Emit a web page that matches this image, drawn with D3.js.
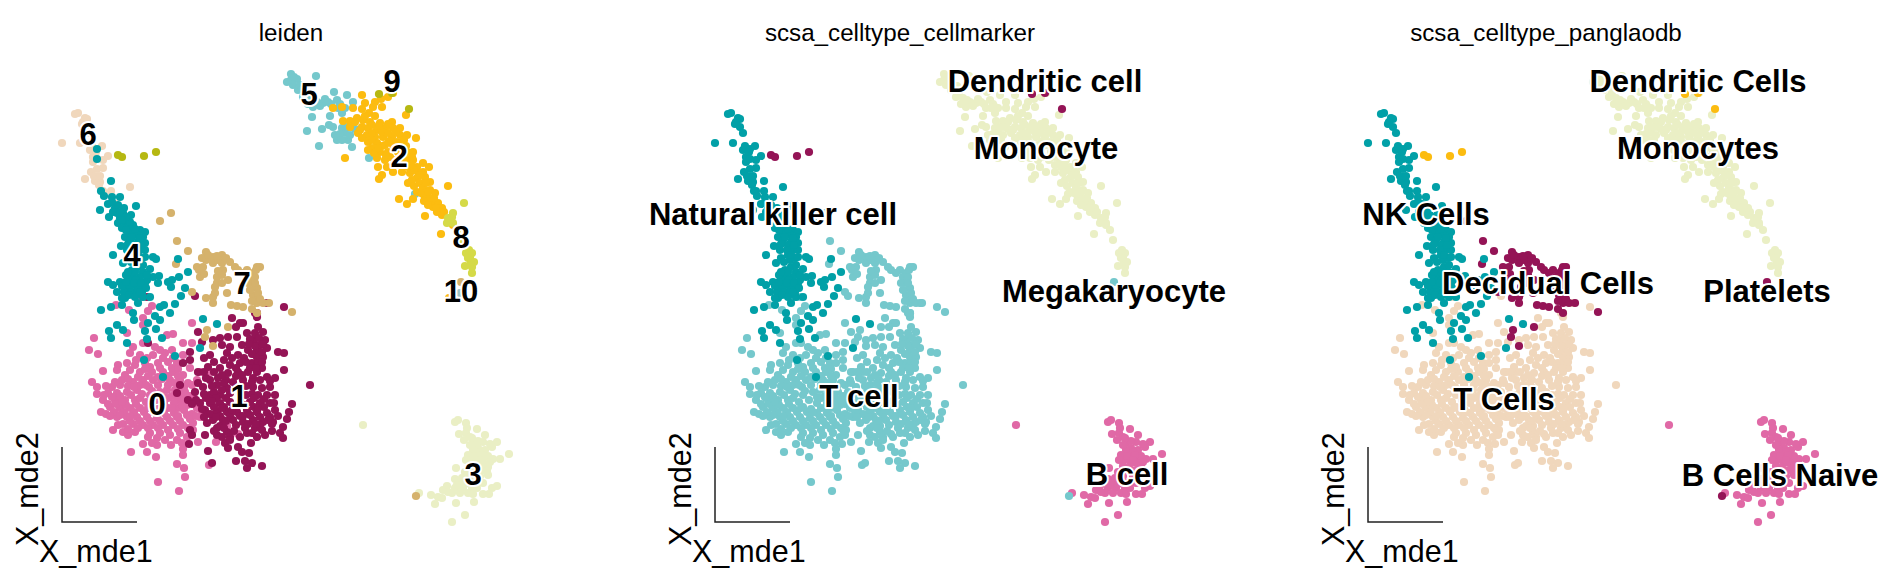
<!DOCTYPE html>
<html>
<head>
<meta charset="utf-8">
<script src="https://cdn.jsdelivr.net/npm/d3@7"></script>
<style>
html, body { margin: 0; padding: 0; background: #fff; }
svg { display: block; }
text { font-family: "Liberation Sans", Arial, sans-serif; fill: #000; }
</style>
</head>
<body>
<svg id="chart"></svg>
<script>
var width = 1893;
var height = 584;

// embedding, one list of [mde1, mde2] per leiden cluster
var cluster0 = [[116,-305],[129,-310],[152,-306],[148,-311],[143,-318],[142,-297],[143,-325],[192,-323],[173,-334],[167,-335],[127,-333],[94,-338],[89,-350],[98,-354],[133,-347],[143,-343],[155,-347],[183,-343],[192,-343],[165,-353],[130,-353],[140,-355],[153,-355],[118,-365],[127,-363],[135,-365],[145,-363],[158,-363],[168,-362],[177,-363],[103,-371],[117,-370],[125,-375],[140,-372],[152,-372],[163,-372],[173,-372],[183,-375],[200,-372],[210,-372],[92,-382],[112,-387],[120,-385],[133,-382],[143,-380],[153,-380],[170,-380],[180,-380],[188,-383],[197,-380],[97,-387],[97,-394],[108,-393],[117,-393],[127,-392],[137,-390],[167,-390],[175,-390],[185,-392],[103,-400],[115,-400],[125,-400],[135,-400],[168,-398],[178,-400],[187,-405],[101,-412],[110,-407],[120,-408],[130,-408],[140,-408],[168,-408],[178,-408],[197,-408],[117,-417],[127,-417],[137,-417],[147,-417],[157,-418],[167,-417],[177,-417],[187,-415],[200,-417],[212,-415],[123,-424],[133,-424],[143,-425],[153,-425],[163,-425],[173,-425],[183,-425],[193,-423],[113,-430],[123,-432],[135,-432],[150,-433],[160,-433],[170,-435],[180,-433],[128,-435],[198,-442],[148,-437],[177,-440],[157,-438],[182,-443],[143,-444],[157,-445],[171,-445],[131,-452],[147,-452],[183,-449],[183,-455],[156,-457],[177,-464],[184,-468],[209,-465],[185,-477],[158,-482],[179,-491],[238,-434],[227,-426],[216,-442],
  [150,-367],[160,-368],[172,-368],[138,-377],[148,-376],[158,-377],[168,-376],[178,-376],[128,-386],[140,-385],[149,-387],[158,-385],[168,-385],[178,-385],[120,-396],[131,-395],[142,-394],[150,-395],[160,-392],[172,-396],[182,-398],[108,-404],[116,-404],[126,-405],[136,-404],[146,-402],[156,-400],[164,-403],[174,-403],[184,-400],[194,-398],[106,-414],[114,-412],[124,-412],[134,-412],[144,-412],[154,-412],[164,-413],[174,-413],[184,-410],[192,-414],[130,-421],[140,-421],[150,-421],[160,-421],[170,-421],[180,-421],[190,-419],[202,-411],
  [163,-358],[173,-358],[147,-358],[136,-360],[160,-350],[172,-350],[183,-355],[190,-368],[178,-369],[145,-369],[130,-370],[122,-380],[128,-379],[162,-379],[175,-383],[184,-387],[192,-385],[115,-382],[106,-386],[112,-397],[104,-395],[146,-385],[134,-387],[152,-391],[164,-397],[180,-393],[190,-396],[122,-402],[140,-398],[150,-407],[158,-409],[172,-408],[182,-405],[192,-403],[200,-403],[110,-416],[120,-415],[130,-416],[148,-408],[160,-412],[178,-416],[196,-416],[138,-428],[148,-428],[158,-428],[168,-430],[178,-429],[188,-428],[118,-425],[128,-429],[193,-430],[165,-440],[152,-443],[187,-437]];

var cluster1 = [[284,-307],[267,-303],[195,-296],[147,-297],[232,-318],[257,-313],[255,-313],[257,-317],[240,-323],[243,-323],[236,-327],[198,-332],[202,-342],[148,-343],[213,-340],[220,-338],[228,-337],[237,-337],[247,-333],[255,-333],[263,-332],[265,-340],[253,-342],[242,-345],[230,-347],[222,-345],[267,-348],[257,-350],[278,-352],[284,-353],[210,-355],[227,-353],[238,-355],[190,-352],[190,-360],[204,-358],[257,-357],[263,-357],[252,-363],[258,-363],[240,-363],[230,-365],[220,-368],[208,-367],[183,-363],[284,-370],[248,-372],[257,-372],[238,-372],[228,-373],[210,-380],[218,-378],[267,-377],[275,-378],[253,-378],[243,-380],[233,-382],[310,-385],[180,-385],[203,-387],[217,-385],[227,-388],[253,-387],[262,-388],[270,-387],[195,-392],[210,-395],[220,-395],[230,-393],[258,-395],[267,-395],[275,-395],[177,-393],[188,-400],[200,-403],[210,-403],[220,-403],[230,-402],[250,-402],[260,-403],[270,-403],[292,-404],[205,-410],[217,-412],[227,-412],[237,-412],[247,-410],[257,-412],[267,-413],[275,-410],[289,-412],[213,-420],[223,-420],[233,-420],[243,-422],[253,-420],[263,-422],[273,-422],[287,-419],[207,-423],[217,-428],[227,-432],[245,-428],[255,-428],[272,-424],[283,-427],[280,-433],[190,-430],[192,-435],[205,-435],[217,-435],[230,-437],[247,-433],[257,-437],[265,-435],[283,-438],[189,-444],[225,-443],[230,-440],[251,-443],[238,-447],[208,-451],[228,-448],[242,-452],[249,-453],[236,-461],[245,-461],[252,-463],[262,-466],[247,-468],[212,-463],
  [254,-340],[260,-345],[248,-350],[252,-354],[262,-352],[244,-358],[250,-368],[262,-368],[232,-358],[224,-360],[214,-362],[236,-368],[226,-380],[236,-376],[246,-386],[240,-392],[246,-395],[252,-394],[206,-378],[198,-372],[214,-392],[224,-383],[196,-400],[206,-398],[216,-398],[226,-398],[254,-398],[264,-399],[214,-407],[224,-407],[234,-407],[244,-405],[254,-407],[264,-407],[210,-414],[220,-416],[230,-415],[240,-416],[250,-415],[260,-417],[270,-417],[220,-426],[236,-425],[248,-424],[260,-425],
  [258,-327],[250,-339],[259,-338],[255,-346],[263,-344],[249,-344],[256,-368],[246,-362],[262,-362],[242,-375],[252,-382],[260,-380],[270,-381],[222,-375],[214,-372],[204,-372],[236,-388],[222,-390],[212,-386],[198,-383],[204,-394],[192,-404],[202,-409],[212,-401],[222,-408],[232,-410],[240,-401],[258,-408],[274,-403],[278,-416],[268,-420],[256,-424],[243,-416],[226,-421],[216,-417],[204,-417],[214,-431],[224,-428],[234,-431],[252,-433],[262,-430],[272,-431],[240,-437],[222,-437]];

var cluster2 = [[362,-95],[365,-103],[375,-102],[381,-99],[388,-97],[393,-93],[373,-107],[382,-107],[353,-108],[362,-109],[333,-108],[342,-107],[369,-113],[406,-115],[375,-116],[343,-121],[350,-121],[357,-118],[363,-120],[370,-122],[380,-123],[392,-122],[362,-127],[368,-128],[377,-130],[385,-128],[393,-128],[400,-128],[358,-133],[367,-135],[375,-137],[383,-137],[392,-137],[400,-135],[407,-135],[416,-138],[368,-142],[377,-143],[385,-145],[393,-145],[402,-143],[372,-148],[380,-152],[388,-152],[398,-152],[407,-152],[413,-152],[345,-158],[377,-158],[385,-160],[407,-160],[413,-160],[423,-163],[378,-167],[387,-167],[408,-167],[417,-167],[429,-167],[393,-172],[402,-172],[410,-173],[418,-172],[382,-175],[379,-179],[417,-178],[425,-177],[408,-183],[420,-183],[430,-182],[448,-186],[423,-188],[430,-190],[417,-192],[435,-193],[427,-197],[399,-199],[413,-199],[407,-204],[432,-202],[438,-203],[433,-207],[442,-208],[437,-212],[442,-215],[425,-216],[441,-234],[453,-225],[449,-298],
  [372,-125],[382,-132],[372,-133],[362,-138],[388,-133],[397,-142],[374,-153],[382,-146],[390,-157],[396,-160],[414,-170],[423,-172],[412,-180],[424,-195],[430,-199],
  [355,-122],[365,-116],[350,-127],[360,-130],[372,-140],[379,-126],[388,-124],[396,-132],[404,-140],[389,-141],[378,-148],[368,-150],[386,-155],[400,-148],[406,-146],[412,-157],[402,-157],[402,-165],[411,-165],[420,-175],[414,-186],[426,-183],[421,-193],[428,-192],[434,-198],[424,-201],[436,-208],[428,-205],[444,-212]];

var cluster3 = [[363,-425],[455,-422],[458,-420],[466,-423],[467,-428],[477,-429],[466,-433],[459,-434],[470,-437],[485,-435],[464,-440],[473,-443],[483,-442],[497,-442],[492,-447],[478,-448],[485,-450],[473,-450],[468,-455],[477,-457],[485,-457],[509,-454],[500,-459],[493,-459],[483,-463],[478,-463],[488,-467],[456,-468],[465,-472],[488,-475],[455,-479],[483,-483],[460,-483],[468,-480],[497,-486],[492,-488],[447,-486],[455,-488],[463,-488],[472,-488],[443,-490],[452,-493],[460,-493],[468,-493],[483,-494],[489,-494],[431,-495],[438,-497],[419,-493],[442,-498],[435,-504],[456,-503],[474,-502],[465,-515],[452,-522],[473,-494],[470,-445],[488,-456],[472,-460],[490,-462],[474,-468],[484,-470],[470,-476],[480,-476],
  [478,-441],[472,-438],[490,-444],[480,-452],[466,-460],[474,-456],[482,-455],[480,-460],[470,-466],[478,-470],[487,-471],[476,-482],[465,-484],[472,-483],[448,-492],[457,-485],[462,-478],[477,-488]];

var cluster4 = [[97,-149],[97,-159],[111,-181],[101,-191],[104,-196],[112,-197],[120,-197],[108,-204],[136,-206],[100,-210],[124,-208],[109,-217],[131,-215],[115,-208],[117,-213],[120,-218],[123,-213],[125,-222],[118,-223],[128,-227],[133,-225],[140,-230],[145,-232],[125,-237],[132,-232],[137,-235],[143,-237],[130,-240],[138,-242],[145,-243],[121,-246],[113,-255],[123,-263],[127,-250],[140,-250],[145,-250],[153,-257],[156,-259],[137,-260],[132,-270],[138,-267],[143,-272],[150,-269],[153,-277],[159,-276],[158,-283],[133,-277],[140,-277],[147,-280],[128,-280],[108,-282],[113,-285],[120,-282],[117,-292],[127,-288],[133,-285],[140,-287],[145,-283],[132,-292],[137,-293],[125,-298],[122,-305],[143,-297],[150,-297],[138,-303],[101,-310],[111,-307],[168,-282],[172,-280],[171,-287],[179,-277],[188,-272],[178,-259],[185,-288],[181,-296],[175,-304],[160,-307],[164,-305],[170,-313],[133,-313],[134,-320],[117,-325],[123,-330],[109,-331],[111,-338],[127,-343],[145,-331],[148,-323],[155,-316],[160,-320],[156,-329],[162,-338],[147,-339],[175,-356],[144,-360],[163,-377],[203,-319],[217,-324],[200,-348],
  [122,-228],[130,-222],[135,-245],[128,-258],[130,-285],[124,-292],[136,-280],[138,-289],[142,-292],[126,-275],[135,-255],[142,-258],
  [112,-202],[118,-205],[113,-212],[120,-212],[126,-217],[122,-220],[130,-232],[135,-229],[126,-230],[132,-237],[140,-238],[134,-250],[128,-244],[141,-245],[131,-262],[138,-255],[145,-257],[135,-272],[143,-265],[147,-275],[128,-272],[122,-286],[126,-282],[134,-283],[141,-283],[146,-288],[129,-295],[135,-297],[122,-298],[140,-292]];

var cluster5 = [[291,-74],[316,-76],[297,-79],[287,-82],[293,-85],[298,-90],[303,-97],[310,-98],[317,-102],[323,-103],[328,-102],[334,-92],[347,-95],[337,-100],[353,-102],[342,-113],[312,-117],[330,-116],[329,-125],[322,-129],[307,-131],[319,-146],[342,-128],[335,-135],[355,-129],[337,-140],[345,-133],[348,-140],[352,-147],[376,-148],[369,-158],[415,-194],[338,-108],[313,-107],[300,-85],
  [291,-80],[294,-77],[302,-88],[306,-92],[308,-104],[314,-100],[320,-106],[325,-99],[331,-104],[304,-86],[340,-104],[345,-108],[340,-134],[347,-127],[342,-140],[350,-135],[333,-127]];

var cluster6 = [[78,-113],[75,-114],[87,-119],[82,-124],[87,-127],[80,-143],[62,-143],[90,-150],[102,-146],[93,-157],[108,-156],[103,-160],[93,-162],[103,-168],[97,-169],[91,-172],[97,-177],[85,-179],[100,-182],[95,-181],[130,-187],[99,-185],[103,-191],[111,-191],[116,-204],[83,-122],[90,-133],[94,-176],[100,-176],[85,-118],[92,-146],[96,-152]];

var cluster7 = [[171,-213],[160,-221],[177,-241],[188,-251],[176,-264],[206,-252],[202,-258],[213,-257],[222,-255],[197,-267],[203,-267],[213,-263],[222,-263],[230,-262],[235,-267],[200,-277],[217,-277],[223,-270],[257,-267],[260,-267],[247,-270],[253,-273],[217,-283],[228,-280],[215,-287],[227,-293],[252,-283],[257,-288],[253,-295],[258,-298],[257,-303],[263,-303],[269,-303],[206,-298],[213,-297],[213,-303],[192,-292],[231,-305],[237,-306],[243,-307],[252,-309],[292,-312],[207,-330],[205,-337],[213,-346],[228,-327],[257,-313],[416,-496],[461,-282],
  [206,-260],[208,-255],[218,-260],[217,-256],[226,-258],[238,-270],[243,-273],[250,-277],[255,-277],[256,-270],[248,-283],[255,-283],[250,-290],[258,-293],[252,-301],[260,-299],[222,-275],[218,-271],[215,-293],[222,-283],[199,-270],[204,-274]];

var cluster8 = [[464,-203],[453,-213],[448,-218],[447,-223],[453,-223],[457,-230],[460,-240],[469,-250],[466,-253],[472,-253],[470,-258],[474,-262],[465,-266],[472,-267],[472,-273],[450,-220],[452,-217],[471,-262],[468,-258]];
var cluster9 = [[118,-155],[122,-157],[144,-156],[156,-152],[379,-94],[409,-109],[392,-93]];
var cluster10 = [[460,-293]];

var clusters = [cluster0, cluster1, cluster2, cluster3, cluster4, cluster5, cluster6, cluster7, cluster8, cluster9, cluster10];
var drawOrder = [5, 6, 3, 0, 1, 7, 4, 2, 8, 9, 10];

var leidenColors = ['#E069A6', '#941456', '#FCBC10', '#EAEFC5', '#01A0A7', '#75C8CC', '#F0D7BC', '#D5B26C', '#D5DA48', '#B6B812', '#9DC3C3'];
var cellmarkerColors = ['#75C8CC', '#75C8CC', '#EAEFC5', '#E069A6', '#01A0A7', '#EAEFC5', '#01A0A7', '#75C8CC', '#EAEFC5', '#941456', '#75C8CC'];
var panglaodbColors = ['#F0D7BC', '#F0D7BC', '#EAEFC5', '#E069A6', '#01A0A7', '#EAEFC5', '#01A0A7', '#941456', '#EAEFC5', '#FCBC10', '#F0D7BC'];

var panelTitles = ['leiden', 'scsa_celltype_cellmarker', 'scsa_celltype_panglaodb'];
var panelColors = [leidenColors, cellmarkerColors, panglaodbColors];
var panelOffsets = [0, 653, 1306];
var titleCenters = [291, 900, 1546];

var leidenLabels = ['0', '1', '2', '3', '4', '5', '6', '7', '8', '9', '10'];
var leidenLabelX = [157, 239, 399, 473, 132, 309, 88, 242, 461, 392, 461];
var leidenLabelY = [-404, -396, -156, -474, -255, -94, -134, -283, -237, -81, -291];
var cellmarkerLabels = ['Dendritic cell', 'Monocyte', 'Megakaryocyte', 'B cell', 'T cell', 'Natural killer cell'];
var cellmarkerLabelX = [392, 393, 461, 474, 206, 120];
var cellmarkerLabelY = [-81, -148, -291, -474, -396, -214];
var panglaodbLabels = ['Dendritic Cells', 'Monocytes', 'Platelets', 'B Cells Naive', 'T Cells', 'NK Cells', 'Decidual Cells'];
var panglaodbLabelX = [392, 392, 461, 474, 198, 120, 242];
var panglaodbLabelY = [-81, -148, -291, -475, -399, -214, -283];
var panelLabels = [[leidenLabels, leidenLabelX, leidenLabelY], [cellmarkerLabels, cellmarkerLabelX, cellmarkerLabelY], [panglaodbLabels, panglaodbLabelX, panglaodbLabelY]];

var svg = d3.select('#chart')
   .attr('width', width)
   .attr('height', height)
   .attr('viewBox', '0 0 ' + width + ' ' + height);

// y values run negative upwards from the top of the figure
var y = d3.scaleLinear().domain([-584, 0]).range([584, 0]);

panelTitles.forEach(function(title, p) {

   var x = d3.scaleLinear().domain([0, 400]).range([panelOffsets[p], panelOffsets[p] + 400]);
   var g = svg.append('g');

   drawOrder.forEach(function(c) {
      g.selectAll(null)
         .data(clusters[c])
         .enter()
         .append('circle')
         .attr('cx', function(d) { return x(d[0]); })
         .attr('cy', function(d) { return y(d[1]); })
         .attr('r', 4.1)
         .attr('fill', panelColors[p][c]);
   });

   svg.append('text')
      .attr('x', titleCenters[p])
      .attr('y', 41)
      .attr('text-anchor', 'middle')
      .style('font-size', '24.2px')
      .text(title);

   // little corner axes instead of a frame
   var left = x(62), bottom = y(-522);
   g.append('path')
      .attr('d', d3.line()([[left, y(-447)], [left, bottom], [x(137), bottom]]))
      .attr('fill', 'none')
      .attr('stroke', '#222')
      .attr('stroke-width', 1.5);

   svg.append('text')
      .attr('x', x(39))
      .attr('y', 562)
      .style('font-size', '30.5px')
      .text('X_mde1');

   svg.append('text')
      .attr('transform', 'translate(' + x(38) + ',546) rotate(-90)')
      .style('font-size', '30.5px')
      .text('X_mde2');

   var labels = panelLabels[p];
   svg.append('g').selectAll('text')
      .data(labels[0])
      .enter()
      .append('text')
      .attr('x', function(d, i) { return x(labels[1][i]); })
      .attr('y', function(d, i) { return y(labels[2][i]); })
      .attr('dy', '0.36em')
      .attr('text-anchor', 'middle')
      .style('font-size', '31px')
      .style('font-weight', 'bold')
      .style('paint-order', 'stroke')
      .style('stroke', '#fff')
      .style('stroke-width', 4)
      .style('stroke-linejoin', 'round')
      .text(function(d) { return d; });
});
</script>
</body>
</html>
